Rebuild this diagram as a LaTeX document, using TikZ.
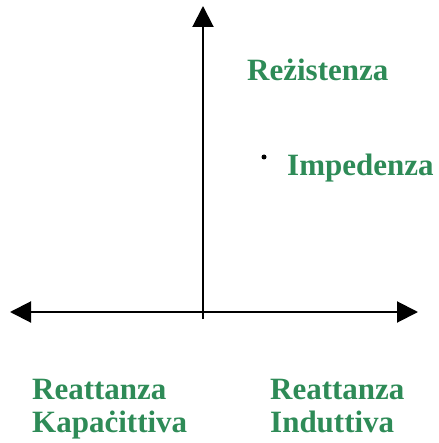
\documentclass[tikz,border=0pt]{standalone}
\usepackage{fontspec}
\setmainfont{Liberation Serif}
\usetikzlibrary{arrows.meta}
\definecolor{lbl}{RGB}{46,139,87}
\begin{document}
\begin{tikzpicture}[x=1pt,y=-1pt,
  axis/.style={line width=2pt,-{Triangle[length=21pt,width=21pt]}},
  lab/.style={anchor=base west,inner sep=0pt,text=lbl,font=\fontsize{31}{33}\selectfont\bfseries,align=left}]
\useasboundingbox (0,0) rectangle (438,443);
\coordinate (o) at (203,312);
\coordinate (top) at (203,6);
\coordinate (bot) at (203,319);
\coordinate (left) at (10,312);
\coordinate (right) at (418,312);
\draw[axis] (bot) -- (top);
\draw[axis] (o) -- (left);
\draw[axis] (o) -- (right);
\node[lab] (res) at (247,81) {Reżistenza};
\node[lab] (imp) at (287,176) {Impedenza};
\node[circle,fill=black,inner sep=0pt,minimum size=5pt] (dot) at (264,157) {};
\node[lab] (cap) at (32,432) {Reattanza\\Kapaċittiva};
\node[lab] (ind) at (270,432) {Reattanza\\Induttiva};
\end{tikzpicture}
\end{document}
